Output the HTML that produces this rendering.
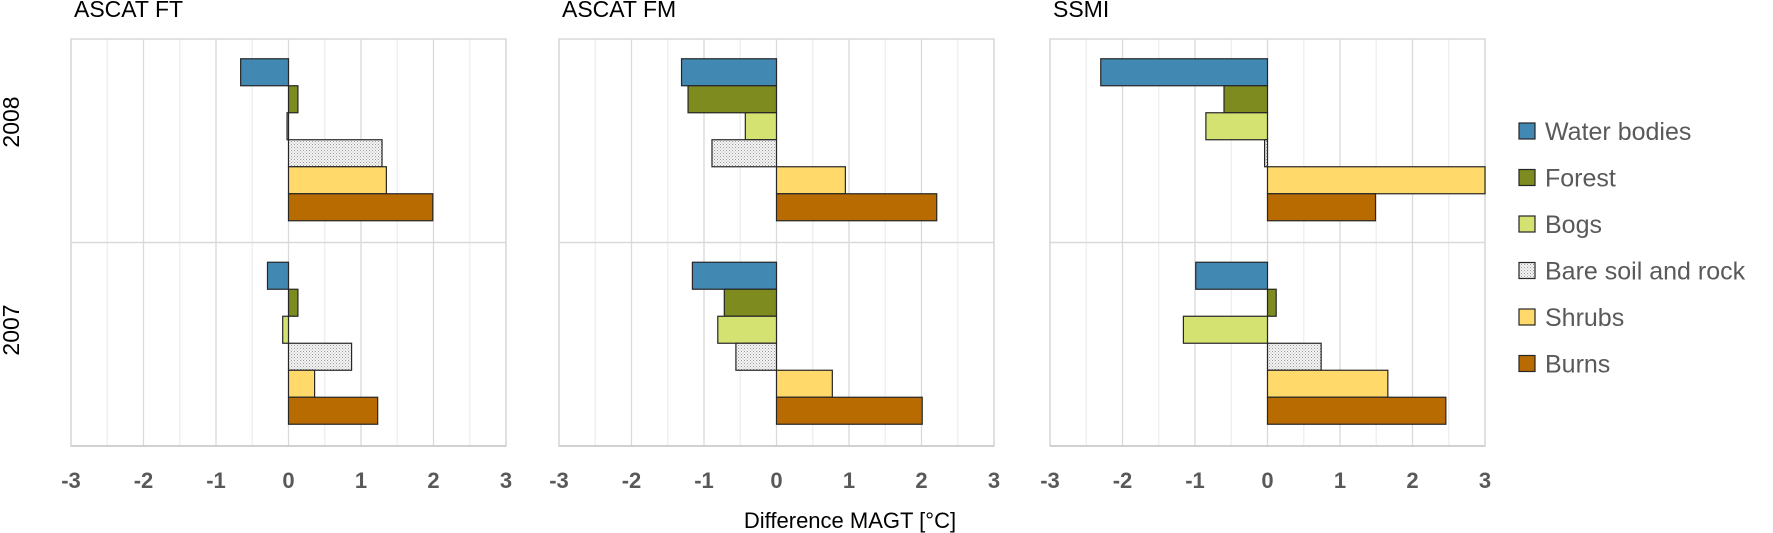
<!DOCTYPE html>
<html><head><meta charset="utf-8">
<style>
html,body{margin:0;padding:0;background:#fff;}
svg{display:block;font-family:"Liberation Sans",sans-serif;}
</style></head>
<body>
<svg id="chart" width="1773" height="533" viewBox="0 0 1773 533" xmlns="http://www.w3.org/2000/svg">
<defs>
<pattern id="dots" width="3" height="3" patternUnits="userSpaceOnUse">
<rect width="3" height="3" fill="#f4f4f4"/>
<rect width="1" height="1" fill="#9a9a9a"/>
<rect x="1.5" y="1.5" width="1" height="1" fill="#b0b0b0"/>
</pattern>
</defs>
<g id="panels"></g>
<g id="legend"></g>
<text transform="translate(19,122) rotate(-90)" text-anchor="middle" font-size="23" fill="#000">2008</text>
<text transform="translate(19,330) rotate(-90)" text-anchor="middle" font-size="23" fill="#000">2007</text>
<text x="850" y="528" text-anchor="middle" font-size="22" fill="#000">Difference MAGT [°C]</text>
</svg>
<script>
const categories = ["Water bodies","Forest","Bogs","Bare soil and rock","Shrubs","Burns"];
const years = ["2008","2007"];
const panelTitles = ["ASCAT FT","ASCAT FM","SSMI"];
const ftValues2008 = [-0.66, 0.13, -0.02, 1.29, 1.35, 1.99];
const ftValues2007 = [-0.29, 0.13, -0.08, 0.87, 0.36, 1.23];
const fmValues2008 = [-1.31, -1.22, -0.43, -0.89, 0.95, 2.21];
const fmValues2007 = [-1.16, -0.72, -0.81, -0.56, 0.77, 2.01];
const ssmiValues2008 = [-2.30, -0.60, -0.85, -0.04, 3.05, 1.49];
const ssmiValues2007 = [-0.99, 0.12, -1.16, 0.74, 1.66, 2.46];
const tickValues = [-3,-2,-1,0,1,2,3];
const tickLabels = ["-3","-2","-1","0","1","2","3"];

const fills = ["#4188b3","#7e8b1f","#d4e272","url(#dots)","#ffda6b","#b86b00"];
const panelData = [[ftValues2008,ftValues2007],[fmValues2008,fmValues2007],[ssmiValues2008,ssmiValues2007]];
const panelLeft = [71,559,1050];
const plotW = 435, plotTop = 39, plotBottom = 446;
const NS = "http://www.w3.org/2000/svg";
function mk(tag, attrs, parent){const e=document.createElementNS(NS,tag);for(const k in attrs)e.setAttribute(k,attrs[k]);parent.appendChild(e);return e;}
const root = document.getElementById("panels");
const catH = (plotBottom-plotTop)/years.length;
const barH = 27;
panelData.forEach((series, p) => {
  const L = panelLeft[p];
  const xs = v => L + (Math.max(-3, Math.min(3, v)) + 3) / 6 * plotW;
  const g = mk("g", {}, root);
  
  
  const t = mk("text", {x: L + 3, y: 17, "font-size": 23, fill: "#000"}, g);
  t.textContent = panelTitles[p];
  
  
  for (let v = -3; v <= 3.001; v += 0.5) {
    const major = Math.abs(v - Math.round(v)) < 0.01;
    const gl = mk("line", {x1: xs(v), x2: xs(v), y1: plotTop, y2: plotBottom, stroke: major ? "#d9d9d9" : "#efefef", "stroke-width": 1.3}, g);
    
    
  }
  const bd = mk("rect", {x: L, y: plotTop, width: plotW, height: plotBottom - plotTop, fill: "none", stroke: "#d9d9d9", "stroke-width": 1.5}, g);
  
  
  const mid = mk("line", {x1: L, x2: L + plotW, y1: plotTop + catH, y2: plotTop + catH, stroke: "#d9d9d9", "stroke-width": 1.5}, g);
  
  
  const ax = mk("line", {x1: L, x2: L + plotW, y1: plotBottom, y2: plotBottom, stroke: "#c8c8c8", "stroke-width": 1.5}, g);
  
  
  tickValues.forEach((tv, i) => {
    const tl = mk("text", {x: xs(tv), y: 488, "text-anchor": "middle", "font-size": 22, "font-weight": "bold", fill: "#595959"}, g);
    tl.textContent = tickLabels[i];
    
    
  });
  series.forEach((vals, yi) => {
    const gy = plotTop + yi * catH + (catH - barH * categories.length) / 2 - 1;
    vals.forEach((v, ci) => {
      const x0 = xs(0), x1 = xs(v);
      const r = mk("rect", {x: Math.min(x0, x1), y: gy + ci * barH, width: Math.max(1, Math.abs(x1 - x0)), height: barH, fill: fills[ci], stroke: "#262626", "stroke-width": 1.2}, g);
      
      
    });
  });
});
const lg = document.getElementById("legend");
categories.forEach((c, i) => {
  const cy = 131 + i * 46.5;
  const s = mk("rect", {x: 1519, y: cy - 8, width: 16, height: 16, fill: fills[i], stroke: "#262626", "stroke-width": 1.2}, lg);
  
  
  const t = mk("text", {x: 1545, y: cy + 9, "font-size": 25, fill: "#595959"}, lg);
  t.textContent = c;
  
  
});
</script>
</body></html>
